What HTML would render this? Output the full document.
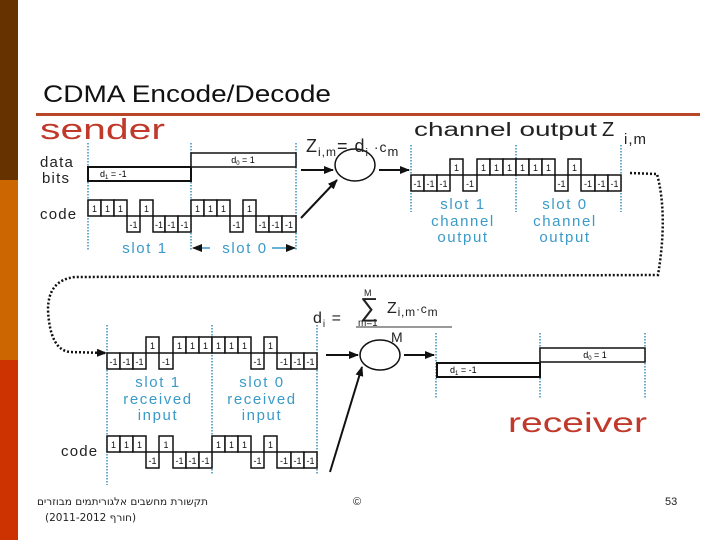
<!DOCTYPE html>
<html><head><meta charset="utf-8"><style>
html,body{margin:0;padding:0;background:#fff}
svg{display:block}
text{font-family:"Liberation Sans",sans-serif}
.b{fill:#fff;stroke:#111;stroke-width:1.5}
.t{font-size:9px;text-anchor:middle;fill:#111}
.dl{stroke:#3a8fc0;stroke-width:1.5;stroke-dasharray:1.5 1.5}
.bl{fill:#3a9ac8;font-size:15px;text-anchor:middle;letter-spacing:1.6px}
.lb{font-size:15px;fill:#222;letter-spacing:1.2px}
</style></head><body>
<svg width="720" height="540" viewBox="0 0 720 540" xmlns="http://www.w3.org/2000/svg">
<defs><marker id="ah" markerWidth="10" markerHeight="8" refX="9" refY="4" orient="auto" markerUnits="userSpaceOnUse"><path d="M0,0 L10,4 L0,8 z" fill="#111"/></marker></defs>
<rect x="0" y="0" width="18" height="180" fill="#663300"/>
<rect x="0" y="180" width="18" height="180" fill="#cc6600"/>
<rect x="0" y="360" width="18" height="180" fill="#cc3300"/>
<text x="43" y="102" font-size="24" fill="#111" textLength="288" lengthAdjust="spacingAndGlyphs">CDMA Encode/Decode</text>
<rect x="36" y="113" width="664" height="3" fill="#b8472a"/>
<text x="40" y="139" font-size="29" fill="#c0392b" textLength="125" lengthAdjust="spacingAndGlyphs">sender</text>

<!-- sender -->
<text x="40" y="167" class="lb">data</text><text x="42" y="183" class="lb">bits</text>
<text x="40" y="219" class="lb">code</text>
<line x1="88" y1="143" x2="88" y2="250" class="dl"/><line x1="191" y1="143" x2="191" y2="250" class="dl"/><line x1="296" y1="143" x2="296" y2="250" class="dl"/>
<rect x="88" y="167" width="103" height="14" class="b" style="stroke-width:2"/><text x="100" y="177" font-size="9">d<tspan font-size="6" dy="2">1</tspan><tspan dy="-2">  = -1</tspan></text>
<rect x="191" y="153" width="105" height="14" class="b"/><text x="243" y="163" font-size="9" text-anchor="middle">d<tspan font-size="6" dy="2">0</tspan><tspan dy="-2"> = 1</tspan></text>
<g>
<rect x="88" y="200" width="13" height="16" class="b"/><text x="94.5" y="212" class="t">1</text>
<rect x="101" y="200" width="13" height="16" class="b"/><text x="107.5" y="212" class="t">1</text>
<rect x="114" y="200" width="13" height="16" class="b"/><text x="120.5" y="212" class="t">1</text>
<rect x="127" y="216" width="13" height="16" class="b"/><text x="133.5" y="228" class="t">-1</text>
<rect x="140" y="200" width="13" height="16" class="b"/><text x="146.5" y="212" class="t">1</text>
<rect x="153" y="216" width="12" height="16" class="b"/><text x="159" y="228" class="t">-1</text>
<rect x="165" y="216" width="13" height="16" class="b"/><text x="171.5" y="228" class="t">-1</text>
<rect x="178" y="216" width="13" height="16" class="b"/><text x="184.5" y="228" class="t">-1</text>
<rect x="191" y="200" width="13" height="16" class="b"/><text x="197.5" y="212" class="t">1</text>
<rect x="204" y="200" width="13" height="16" class="b"/><text x="210.5" y="212" class="t">1</text>
<rect x="217" y="200" width="13" height="16" class="b"/><text x="223.5" y="212" class="t">1</text>
<rect x="230" y="216" width="13" height="16" class="b"/><text x="236.5" y="228" class="t">-1</text>
<rect x="243" y="200" width="13" height="16" class="b"/><text x="249.5" y="212" class="t">1</text>
<rect x="256" y="216" width="13" height="16" class="b"/><text x="262.5" y="228" class="t">-1</text>
<rect x="269" y="216" width="13" height="16" class="b"/><text x="275.5" y="228" class="t">-1</text>
<rect x="282" y="216" width="14" height="16" class="b"/><text x="289" y="228" class="t">-1</text>
</g>
<text x="145" y="253" class="bl">slot 1</text>
<text x="245" y="253" class="bl">slot 0</text>
<line x1="210" y1="248" x2="193" y2="248" stroke="#3a9ac8" stroke-width="1.5" marker-end="url(#ah)"/>
<line x1="272" y1="248" x2="295" y2="248" stroke="#3a9ac8" stroke-width="1.5" marker-end="url(#ah)"/>

<ellipse cx="355" cy="165" rx="20" ry="16" fill="#fff" stroke="#111" stroke-width="1.5"/>
<line x1="301" y1="170" x2="333" y2="170" stroke="#111" stroke-width="2" marker-end="url(#ah)"/>
<line x1="301" y1="218" x2="337" y2="180" stroke="#111" stroke-width="2" marker-end="url(#ah)"/>
<line x1="379" y1="170" x2="409" y2="170" stroke="#111" stroke-width="2" marker-end="url(#ah)"/>
<text x="306" y="152" font-size="18" fill="#222" letter-spacing="1">Z<tspan font-size="12" dy="4">i,m</tspan><tspan dy="-4">= d</tspan><tspan font-size="11" dy="4">i</tspan><tspan dy="-4" font-size="14"> ·c</tspan><tspan font-size="13" dy="4">m</tspan></text>

<!-- channel -->
<text x="414" y="136" font-size="19" fill="#222" textLength="183" lengthAdjust="spacingAndGlyphs">channel output</text>
<text x="602" y="136" font-size="20" fill="#222">Z</text>
<text x="624" y="144" font-size="15" fill="#222" letter-spacing="1">i,m</text>
<line x1="411" y1="145" x2="411" y2="212" class="dl"/><line x1="516" y1="145" x2="516" y2="212" class="dl"/><line x1="621" y1="145" x2="621" y2="212" class="dl"/>
<g>
<rect x="411" y="175" width="13" height="16" class="b"/><text x="417.5" y="187" class="t">-1</text>
<rect x="424" y="175" width="13" height="16" class="b"/><text x="430.5" y="187" class="t">-1</text>
<rect x="437" y="175" width="13" height="16" class="b"/><text x="443.5" y="187" class="t">-1</text>
<rect x="450" y="159" width="13" height="16" class="b"/><text x="456.5" y="171" class="t">1</text>
<rect x="463" y="175" width="14" height="16" class="b"/><text x="470" y="187" class="t">-1</text>
<rect x="477" y="159" width="13" height="16" class="b"/><text x="483.5" y="171" class="t">1</text>
<rect x="490" y="159" width="13" height="16" class="b"/><text x="496.5" y="171" class="t">1</text>
<rect x="503" y="159" width="13" height="16" class="b"/><text x="509.5" y="171" class="t">1</text>
<rect x="516" y="159" width="13" height="16" class="b"/><text x="522.5" y="171" class="t">1</text>
<rect x="529" y="159" width="13" height="16" class="b"/><text x="535.5" y="171" class="t">1</text>
<rect x="542" y="159" width="13" height="16" class="b"/><text x="548.5" y="171" class="t">1</text>
<rect x="555" y="175" width="13" height="16" class="b"/><text x="561.5" y="187" class="t">-1</text>
<rect x="568" y="159" width="13" height="16" class="b"/><text x="574.5" y="171" class="t">1</text>
<rect x="581" y="175" width="14" height="16" class="b"/><text x="588" y="187" class="t">-1</text>
<rect x="595" y="175" width="13" height="16" class="b"/><text x="601.5" y="187" class="t">-1</text>
<rect x="608" y="175" width="13" height="16" class="b"/><text x="614.5" y="187" class="t">-1</text>
</g>
<text x="463" y="209" class="bl">slot 1</text><text x="463" y="226" class="bl">channel</text><text x="463" y="242" class="bl">output</text>
<text x="565" y="209" class="bl">slot 0</text><text x="565" y="226" class="bl">channel</text><text x="565" y="242" class="bl">output</text>

<path d="M630,173 L657,174 Q668,215 658,275 L75,277 Q48,280 48,310 Q50,350 70,352 L106,353" fill="none" stroke="#111" stroke-width="2.5" stroke-dasharray="2 2" marker-end="url(#ah)"/>

<!-- receiver side -->
<line x1="107" y1="325" x2="107" y2="485" class="dl"/><line x1="212" y1="325" x2="212" y2="475" class="dl"/><line x1="317" y1="325" x2="317" y2="475" class="dl"/>
<g>
<rect x="107" y="353" width="13" height="16" class="b"/><text x="113.5" y="365" class="t">-1</text>
<rect x="120" y="353" width="13" height="16" class="b"/><text x="126.5" y="365" class="t">-1</text>
<rect x="133" y="353" width="13" height="16" class="b"/><text x="139.5" y="365" class="t">-1</text>
<rect x="146" y="337" width="13" height="16" class="b"/><text x="152.5" y="349" class="t">1</text>
<rect x="159" y="353" width="14" height="16" class="b"/><text x="166" y="365" class="t">-1</text>
<rect x="173" y="337" width="13" height="16" class="b"/><text x="179.5" y="349" class="t">1</text>
<rect x="186" y="337" width="13" height="16" class="b"/><text x="192.5" y="349" class="t">1</text>
<rect x="199" y="337" width="13" height="16" class="b"/><text x="205.5" y="349" class="t">1</text>
<rect x="212" y="337" width="13" height="16" class="b"/><text x="218.5" y="349" class="t">1</text>
<rect x="225" y="337" width="13" height="16" class="b"/><text x="231.5" y="349" class="t">1</text>
<rect x="238" y="337" width="13" height="16" class="b"/><text x="244.5" y="349" class="t">1</text>
<rect x="251" y="353" width="13" height="16" class="b"/><text x="257.5" y="365" class="t">-1</text>
<rect x="264" y="337" width="13" height="16" class="b"/><text x="270.5" y="349" class="t">1</text>
<rect x="277" y="353" width="14" height="16" class="b"/><text x="284" y="365" class="t">-1</text>
<rect x="291" y="353" width="13" height="16" class="b"/><text x="297.5" y="365" class="t">-1</text>
<rect x="304" y="353" width="13" height="16" class="b"/><text x="310.5" y="365" class="t">-1</text>
</g>
<text x="158" y="387" class="bl">slot 1</text><text x="158" y="404" class="bl">received</text><text x="158" y="420" class="bl">input</text>
<text x="262" y="387" class="bl">slot 0</text><text x="262" y="404" class="bl">received</text><text x="262" y="420" class="bl">input</text>
<text x="61" y="456" class="lb">code</text>
<g>
<rect x="107" y="436" width="13" height="16" class="b"/><text x="113.5" y="448" class="t">1</text>
<rect x="120" y="436" width="13" height="16" class="b"/><text x="126.5" y="448" class="t">1</text>
<rect x="133" y="436" width="13" height="16" class="b"/><text x="139.5" y="448" class="t">1</text>
<rect x="146" y="452" width="13" height="16" class="b"/><text x="152.5" y="464" class="t">-1</text>
<rect x="159" y="436" width="14" height="16" class="b"/><text x="166" y="448" class="t">1</text>
<rect x="173" y="452" width="13" height="16" class="b"/><text x="179.5" y="464" class="t">-1</text>
<rect x="186" y="452" width="13" height="16" class="b"/><text x="192.5" y="464" class="t">-1</text>
<rect x="199" y="452" width="13" height="16" class="b"/><text x="205.5" y="464" class="t">-1</text>
<rect x="212" y="436" width="13" height="16" class="b"/><text x="218.5" y="448" class="t">1</text>
<rect x="225" y="436" width="13" height="16" class="b"/><text x="231.5" y="448" class="t">1</text>
<rect x="238" y="436" width="13" height="16" class="b"/><text x="244.5" y="448" class="t">1</text>
<rect x="251" y="452" width="13" height="16" class="b"/><text x="257.5" y="464" class="t">-1</text>
<rect x="264" y="436" width="13" height="16" class="b"/><text x="270.5" y="448" class="t">1</text>
<rect x="277" y="452" width="14" height="16" class="b"/><text x="284" y="464" class="t">-1</text>
<rect x="291" y="452" width="13" height="16" class="b"/><text x="297.5" y="464" class="t">-1</text>
<rect x="304" y="452" width="13" height="16" class="b"/><text x="310.5" y="464" class="t">-1</text>
</g>

<text x="313" y="323" font-size="16" fill="#222" letter-spacing="1">d<tspan font-size="10" dy="4">i</tspan><tspan dy="-4">  =</tspan></text>
<text x="360" y="316" font-size="26" fill="#222">∑</text>
<text x="364" y="296" font-size="9" fill="#222">M</text>
<text x="358" y="326" font-size="10" fill="#222">m=1</text>
<text x="387" y="313" font-size="16" fill="#222" letter-spacing="0.8">Z<tspan font-size="12" dy="3">i,m</tspan><tspan dy="-3" font-size="12">·c</tspan><tspan font-size="12" dy="3">m</tspan></text>
<line x1="356" y1="327" x2="452" y2="327" stroke="#333" stroke-width="1"/>
<text x="391" y="342" font-size="14" fill="#222">M</text>

<ellipse cx="380" cy="355" rx="20" ry="15" fill="#fff" stroke="#111" stroke-width="1.5"/>
<line x1="326" y1="355" x2="358" y2="355" stroke="#111" stroke-width="2" marker-end="url(#ah)"/>
<line x1="330" y1="472" x2="362" y2="367" stroke="#111" stroke-width="2" marker-end="url(#ah)"/>
<line x1="404" y1="355" x2="434" y2="355" stroke="#111" stroke-width="2" marker-end="url(#ah)"/>
<line x1="436" y1="333" x2="436" y2="398" class="dl"/><line x1="540" y1="333" x2="540" y2="398" class="dl"/><line x1="645" y1="333" x2="645" y2="398" class="dl"/>
<rect x="437" y="363" width="103" height="14" class="b" style="stroke-width:2"/><text x="450" y="373" font-size="9">d<tspan font-size="6" dy="2">1</tspan><tspan dy="-2">  = -1</tspan></text>
<rect x="540" y="348" width="105" height="14" class="b"/><text x="595" y="358" font-size="9" text-anchor="middle">d<tspan font-size="6" dy="2">0</tspan><tspan dy="-2"> = 1</tspan></text>
<text x="508" y="432" font-size="28" fill="#c0392b" textLength="139" lengthAdjust="spacingAndGlyphs">receiver</text>

<text x="208" y="505" font-size="10.5" fill="#222" text-anchor="end" style='font-family:"DejaVu Sans",sans-serif'>תקשורת מחשבים אלגוריתמים מבוזרים</text>
<text x="45" y="521" font-size="10.5" fill="#222" style='font-family:"DejaVu Sans",sans-serif'>(2011-2012 <tspan>חורף</tspan>)</text>
<text x="353" y="505" font-size="11" fill="#222">©</text>
<text x="665" y="505" font-size="11" fill="#222">53</text>
</svg>
</body></html>
